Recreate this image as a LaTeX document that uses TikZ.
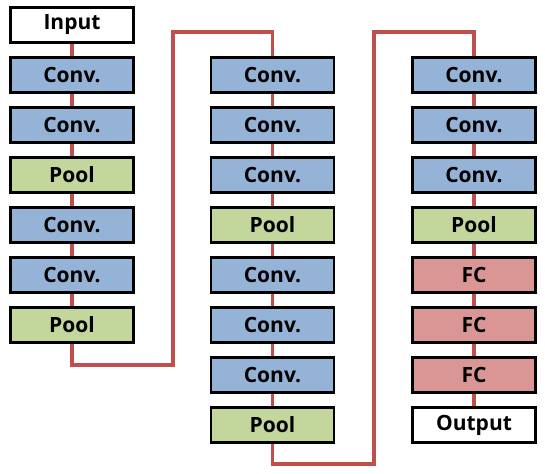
\documentclass[tikz,border=0pt]{standalone}
\usepackage{fontspec}
\setmainfont{Open Sans}
\usetikzlibrary{positioning,backgrounds}
\definecolor{convblue}{HTML}{95B3D7}
\definecolor{poolgreen}{HTML}{C3D69B}
\definecolor{fcred}{HTML}{D99694}
\definecolor{linkred}{HTML}{C0504D}
\tikzstyle{layer} = [rectangle,draw=black,line width=2.2pt,minimum width=123pt,minimum height=35pt,inner sep=0pt,font=\fontsize{21}{25}\selectfont\bfseries]
\tikzstyle{conv} = [layer,fill=convblue]
\tikzstyle{pool} = [layer,fill=poolgreen]
\tikzstyle{fc} = [layer,fill=fcred]
\tikzstyle{io} = [layer,fill=white]
\tikzstyle{link} = [draw=linkred,line width=3.6pt]

\begin{document}
\begin{tikzpicture}[x=1pt,y=1pt,node distance=50pt]
            \useasboundingbox (0,0) rectangle (545,473);
            % first column
            \node[io] (input) at (72,448) {Input};
            \node[conv,below of=input] (convA1) {Conv.};
            \node[conv,below of=convA1] (convA2) {Conv.};
            \node[pool,below of=convA2] (poolA1) {Pool};
            \node[conv,below of=poolA1] (convA3) {Conv.};
            \node[conv,below of=convA3] (convA4) {Conv.};
            \node[pool,below of=convA4] (poolA2) {Pool};
            % second column
            \node[conv] (convB1) at (272.5,398) {Conv.};
            \node[conv,below of=convB1] (convB2) {Conv.};
            \node[conv,below of=convB2] (convB3) {Conv.};
            \node[pool,below of=convB3] (poolB1) {Pool};
            \node[conv,below of=poolB1] (convB4) {Conv.};
            \node[conv,below of=convB4] (convB5) {Conv.};
            \node[conv,below of=convB5] (convB6) {Conv.};
            \node[pool,below of=convB6] (poolB2) {Pool};
            % third column
            \node[conv] (convC1) at (474,398) {Conv.};
            \node[conv,below of=convC1] (convC2) {Conv.};
            \node[conv,below of=convC2] (convC3) {Conv.};
            \node[pool,below of=convC3] (poolC1) {Pool};
            \node[fc,below of=poolC1] (fcC1) {FC};
            \node[fc,below of=fcC1] (fcC2) {FC};
            \node[fc,below of=fcC2] (fcC3) {FC};
            \node[io,below of=fcC3] (output) {Output};
            % turning points
            \coordinate (turnA) at (173,108);
            \coordinate (topA) at (272.5,441);
            \coordinate (turnB) at (374,9);
            \coordinate (topB) at (474,441);
            \begin{scope}[on background layer]
            \path[link] (input.center) -- (poolA2.center) |- (turnA) |- (topA) -- (convB1.center);
            \path[link] (convB1.center) -- (poolB2.center) |- (turnB) |- (topB) -- (output.center);
            \end{scope}
        \end{tikzpicture}
\end{document}
